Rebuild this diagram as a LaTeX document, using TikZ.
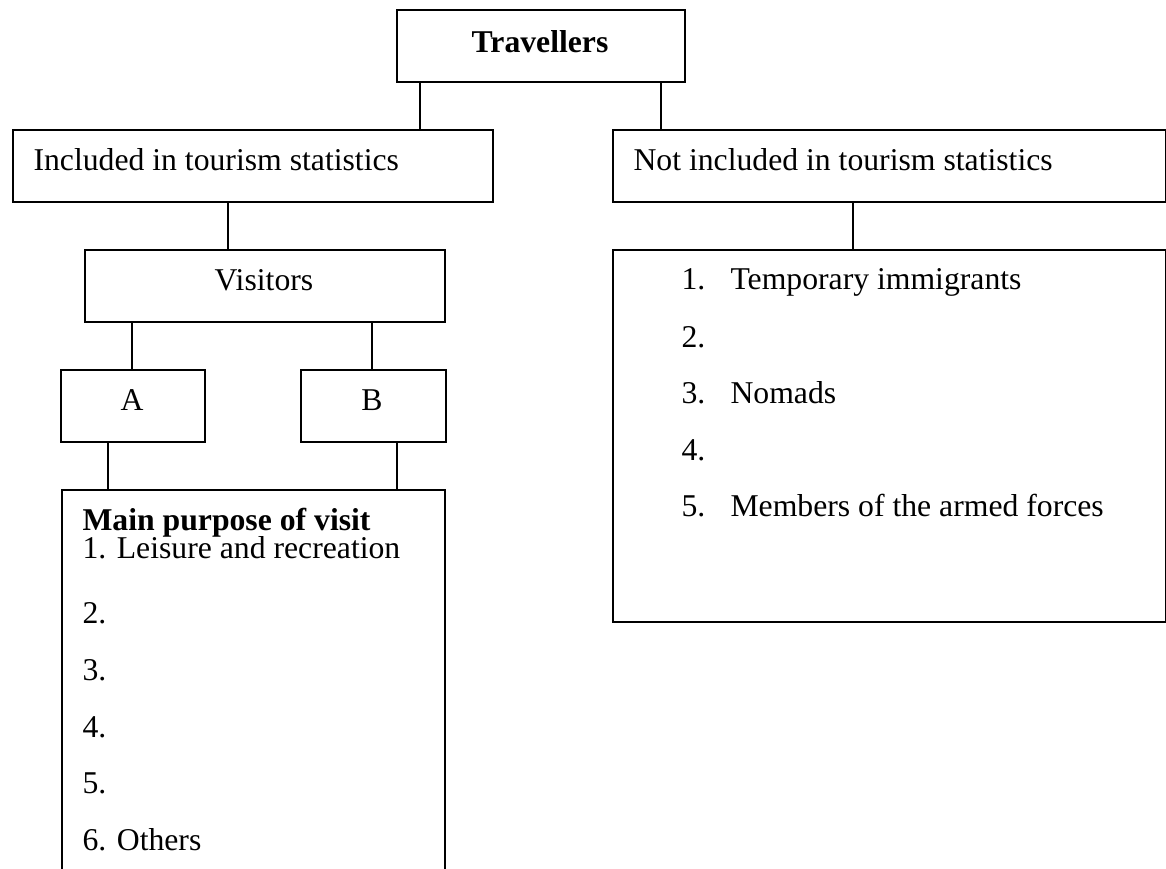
\documentclass[tikz,border=0pt]{standalone}
\usepackage{fontspec}
\setmainfont{Liberation Serif}
\def\px{0.3785pt}
\tikzset{
  box/.style = {draw, line width=0.75pt, inner sep=0pt, anchor=north west},
  txt/.style = {inner sep=0pt, anchor=base west, font=\fontsize{12}{14}\selectfont},
  ctxt/.style = {txt, anchor=base},
  link/.style = {line width=0.75pt}
}

\begin{document}
\begin{tikzpicture}[x=\px, y=-\px]
  \clip (0,0) rectangle (1166,868);
  % top
  \node[box, minimum width=288*\px, minimum height=72*\px] (trav) at (396,9) {};
  \node[ctxt] (travt) at (540,52) {\textbf{Travellers}};
  % second row
  \node[box, minimum width=480*\px, minimum height=72*\px] (incl) at (12,129) {};
  \node[txt] (inclt) at (33,170) {Included in tourism statistics};
  \node[box, minimum width=553*\px, minimum height=72*\px] (excl) at (612,129) {};
  \node[txt] (exclt) at (633,170) {Not included in tourism statistics};
  % visitors
  \node[box, minimum width=360*\px, minimum height=72*\px] (vis) at (84,249) {};
  \node[ctxt] (vist) at (264,290) {Visitors};
  \node[box, minimum width=144*\px, minimum height=72*\px] (a) at (60,369) {};
  \node[ctxt] (at) at (132,410) {A};
  \node[box, minimum width=145*\px, minimum height=72*\px] (b) at (300,369) {};
  \node[ctxt] (bt) at (372,410) {B};
  % purpose
  \node[box, minimum width=383*\px, minimum height=420*\px] (main) at (61,489) {};
  \node[txt] (maint) at (82,530) {\textbf{Main purpose of visit}};
  \node[txt] (m1) at (82,558) {1. Leisure and recreation};
  \foreach \n/\y in {2/623,3/680,4/737,5/793} { \node[txt] (m\n) at (82,\y) {\n.}; };
  \node[txt] (m6) at (82,850) {6. Others};
  % not included
  \node[box, minimum width=553*\px, minimum height=372*\px] (list) at (612,249) {};
  \foreach \n/\y in {1/289,2/347,3/403,4/460,5/516} { \node[txt] (r\n) at (681,\y) {\n.}; };
  \node[txt] (rt1) at (730,289) {Temporary immigrants};
  \node[txt] (rt3) at (730,403) {Nomads};
  \node[txt] (rt5) at (730,516) {Members of the armed forces};
  % links
  \draw[link] (trav.south -| 420,0) -- (incl.north -| 420,0);
  \draw[link] (trav.south -| 661,0) -- (excl.north -| 661,0);
  \draw[link] (incl.south -| 228,0) -- (vis.north -| 228,0);
  \draw[link] (excl.south -| 853,0) -- (list.north -| 853,0);
  \draw[link] (vis.south -| 132,0) -- (a.north -| 132,0);
  \draw[link] (vis.south -| 372,0) -- (b.north -| 372,0);
  \draw[link] (a.south -| 108,0) -- (main.north -| 108,0);
  \draw[link] (b.south -| 397,0) -- (main.north -| 397,0);
\end{tikzpicture}
\end{document}
